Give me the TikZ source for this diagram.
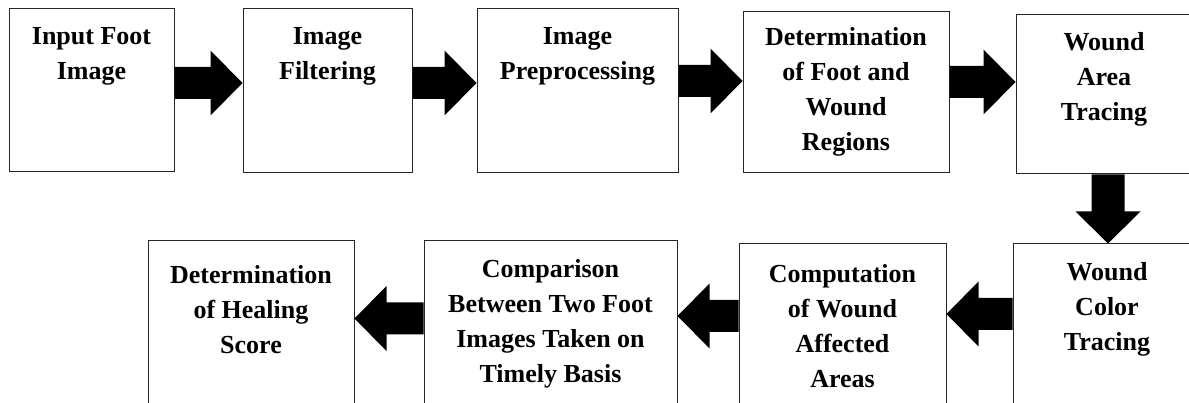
\documentclass[tikz,border=0pt]{standalone}
\usepackage{fontspec}
\setmainfont{Liberation Serif}
\usetikzlibrary{calc}
\tikzset{
  box/.style={draw=black!85, line width=1pt, inner sep=0pt, fill=white},
  lbl/.style={anchor=north, inner sep=0pt, align=center, font=\bfseries\fontsize{26}{35}\selectfont},
}
\newcommand\blockR[2]{\fill ($(#1)+(0,-16)$) -- ($(#2)+(-32,-16)$) -- ($(#2)+(-32,-32.5)$) -- (#2) -- ($(#2)+(-32,32.5)$) -- ($(#2)+(-32,16)$) -- ($(#1)+(0,16)$) -- cycle;}
\newcommand\blockL[2]{\fill ($(#1)+(0,-16)$) -- ($(#2)+(32,-16)$) -- ($(#2)+(32,-32.5)$) -- (#2) -- ($(#2)+(32,32.5)$) -- ($(#2)+(32,16)$) -- ($(#1)+(0,16)$) -- cycle;}
\newcommand\blockD[2]{\fill ($(#1)+(-16.5,0)$) -- ($(#2)+(-16.5,-32)$) -- ($(#2)+(-32.5,-32)$) -- (#2) -- ($(#2)+(32.5,-32)$) -- ($(#2)+(16.5,-32)$) -- ($(#1)+(16.5,0)$) -- cycle;}
\begin{document}
\begin{tikzpicture}[x=1pt, y=-1pt]
\useasboundingbox (0,0) rectangle (1189,403);
\fill[white] (0,0) rectangle (1189,403);
\clip (0,0) rectangle (1189,403);
% boxes
\node[box, minimum width=165pt, minimum height=163pt] (b1) at (91.5,90.5) {};
\node[box, minimum width=169pt, minimum height=164pt] (b2) at (327.5,91) {};
\node[box, minimum width=201pt, minimum height=164pt] (b3) at (577.5,91) {};
\node[box, minimum width=206pt, minimum height=161pt] (b4) at (846,92.5) {};
\node[box, minimum width=184pt, minimum height=159pt] (b5) at (1108,94.5) {};
\node[box, minimum width=197pt, minimum height=176pt] (b6) at (1111.5,332) {};
\node[box, minimum width=207pt, minimum height=176pt] (b7) at (842.5,332) {};
\node[box, minimum width=253pt, minimum height=179pt] (b8) at (550.5,330.5) {};
\node[box, minimum width=206pt, minimum height=179pt] (b9) at (251,330.5) {};
% labels
\node[lbl] (t1) at ($(b1.north)+(0,18.5)$) {Input Foot\\Image};
\node[lbl] (t2) at ($(b2.north)+(0,18.5)$) {Image\\Filtering};
\node[lbl] (t3) at ($(b3.north)+(0,18.5)$) {Image\\Preprocessing};
\node[lbl] (t4) at ($(b4.north)+(0,15.5)$) {Determination\\of Foot and\\Wound\\Regions};
\node[lbl] (t5) at ($(b5.north)+(-4,17.5)$) {Wound\\Area\\Tracing};
\node[lbl] (t6) at ($(b6.north)+(-4.5,18.5)$) {Wound\\Color\\Tracing};
\node[lbl] (t7) at ($(b7.north)+(0,20.5)$) {Computation\\of Wound\\Affected\\Areas};
\node[lbl] (t8) at ($(b8.north)+(0,18.5)$) {Comparison\\Between Two Foot\\Images Taken on\\Timely Basis};
\node[lbl] (t9) at ($(b9.north)+(0,24.5)$) {Determination\\of Healing\\Score};
% arrow end points
\coordinate (a1s) at (b1.east |- 0,83);  \coordinate (a1e) at (b2.west |- 0,83);
\coordinate (a2s) at (b2.east |- 0,83);  \coordinate (a2e) at (b3.west |- 0,83);
\coordinate (a3s) at (b3.east |- 0,81);  \coordinate (a3e) at (b4.west |- 0,81);
\coordinate (a4s) at (b4.east |- 0,82);  \coordinate (a4e) at (b5.west |- 0,82);
\coordinate (a5s) at (b5.south -| 1108,0); \coordinate (a5e) at (b6.north -| 1108,0);
\coordinate (a6s) at (b6.west |- 0,314); \coordinate (a6e) at (b7.east |- 0,314);
\coordinate (a7s) at (b7.west |- 0,316); \coordinate (a7e) at (b8.east |- 0,316);
\coordinate (a8s) at (b8.west |- 0,318.5); \coordinate (a8e) at (b9.east |- 0,318.5);
% arrows
\blockR{a1s}{a1e}
\blockR{a2s}{a2e}
\blockR{a3s}{a3e}
\blockR{a4s}{a4e}
\blockD{a5s}{a5e}
\blockL{a6s}{a6e}
\blockL{a7s}{a7e}
\blockL{a8s}{a8e}
\end{tikzpicture}
\end{document}
